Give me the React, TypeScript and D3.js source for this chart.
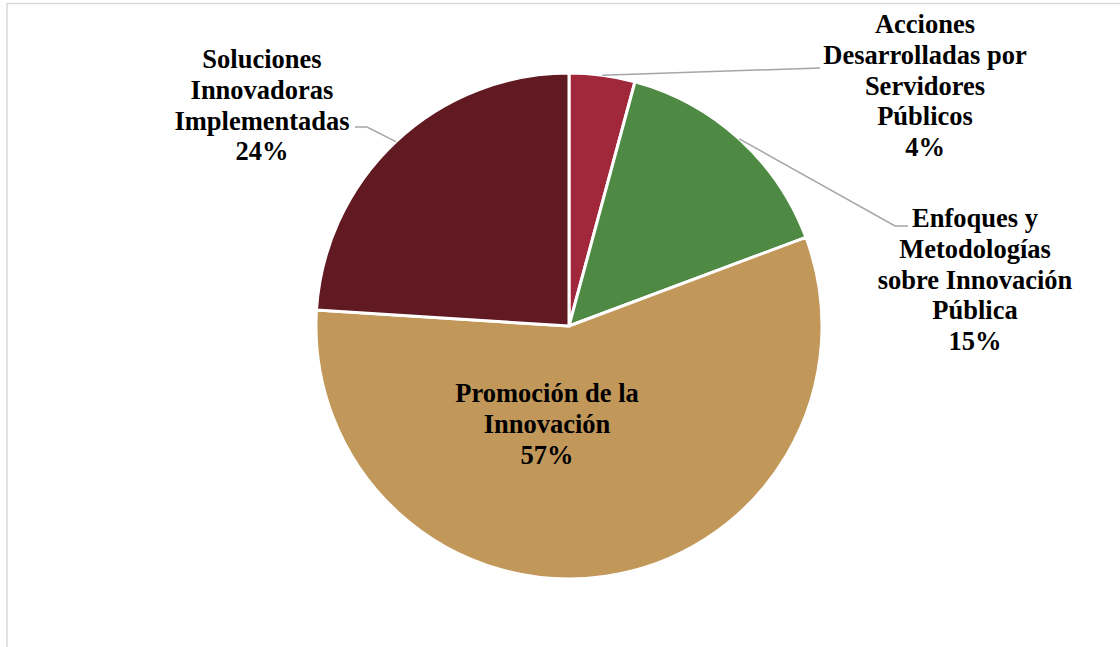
import React from "react";
import * as d3 from "d3";

const categories = [
  "Acciones Desarrolladas por Servidores Públicos",
  "Enfoques y Metodologías sobre Innovación Pública",
  "Promoción de la Innovación",
  "Soluciones Innovadoras Implementadas",
];
const values = [4.2, 15.1, 56.7, 24.0];
const colors = ["#A0283A", "#4E8A43", "#C2985A", "#611922"];
const labelLines = [
  ["Acciones", "Desarrolladas por", "Servidores", "Públicos", "4%"],
  ["Enfoques y", "Metodologías", "sobre Innovación", "Pública", "15%"],
  ["Promoción de la", "Innovación", "57%"],
  ["Soluciones", "Innovadoras", "Implementadas", "24%"],
];

const W = 1120;
const H = 647;
const cx = 569;
const cy = 326;
const R = 253;

// label layout: center x, first baseline y, leader end points (null = none)
const labelLayout = [
  { x: 925, y: 33, leader: [[820, 68]] },
  { x: 975, y: 227, leader: [[895, 226], [908, 226]] },
  { x: 547, y: 402, leader: null },
  { x: 262, y: 68, leader: [[367, 127], [355, 127]] },
];

export default function App() {
  const pie = d3.pie<number>().sort(null).value((d) => d);
  const arcs = pie(values);
  const arc = d3.arc<d3.PieArcDatum<number>>().innerRadius(0).outerRadius(R);
  const lineH = 30.8;

  return (
    <div style={{ position: "absolute", left: 0, top: 0 }}>
      <svg width={W} height={H} style={{ display: "block" }}>
        <rect x={0} y={0} width={W} height={H} fill="#fff" />
        <rect x={7} y={3.5} width={W + 20} height={H + 20} fill="none" stroke="#d9d9d9" strokeWidth={1.5} />
        <g transform={`translate(${cx},${cy})`}>
          {arcs.map((a, i) => (
            <path key={categories[i]} d={arc(a) || ""} fill={colors[i]} stroke="#fff" strokeWidth={3} strokeLinejoin="round" />
          ))}
        </g>
        {arcs.map((a, i) => {
          const lay = labelLayout[i];
          if (!lay.leader) return null;
          const mid = (a.startAngle + a.endAngle) / 2;
          const sx = cx + Math.sin(mid) * R;
          const sy = cy - Math.cos(mid) * R;
          const pts = [[sx, sy], ...lay.leader];
          return (
            <polyline
              key={"l" + i}
              points={pts.map((p) => p.join(",")).join(" ")}
              fill="none"
              stroke="#a6a6a6"
              strokeWidth={1.5}
            />
          );
        })}
        {labelLines.map((lines, i) => (
          <text
            key={"t" + i}
            x={labelLayout[i].x}
            y={labelLayout[i].y}
            textAnchor="middle"
            fontFamily="Liberation Serif"
            fontWeight="bold"
            fontSize={26.5}
            fill="#000"
          >
            {lines.map((ln, j) => (
              <tspan key={j} x={labelLayout[i].x} y={labelLayout[i].y + j * lineH}>
                {ln}
              </tspan>
            ))}
          </text>
        ))}
      </svg>
    </div>
  );
}
